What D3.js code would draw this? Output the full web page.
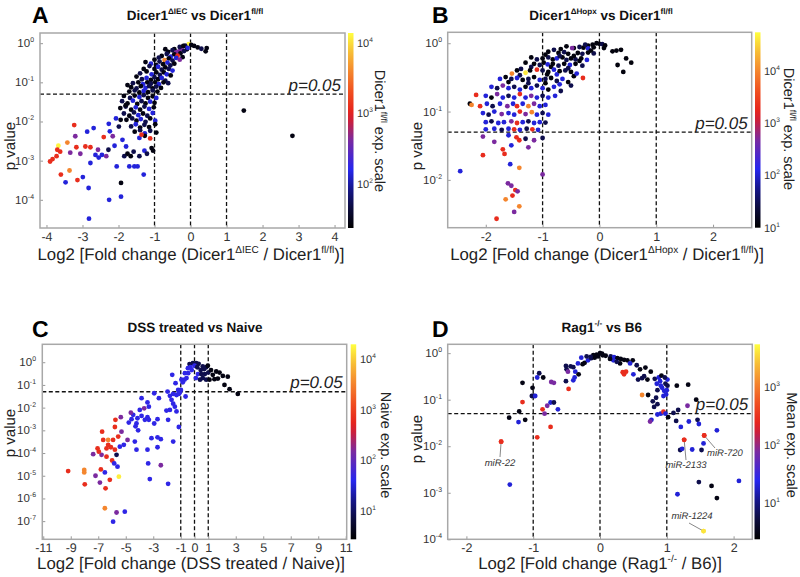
<!DOCTYPE html>
<html><head><meta charset="utf-8">
<script src="https://cdn.jsdelivr.net/npm/d3@7"></script>
<style>body{margin:0;background:#fff} svg{display:block} text{font-family:"Liberation Sans",Arial,Helvetica,sans-serif;text-rendering:geometricPrecision;-webkit-font-smoothing:antialiased}</style>
</head><body><svg id="c" width="800" height="577"></svg>
<script>
// ---------------- DATA: [log2 fold change, p value, expression] ----------------
const pointsA = [
[-0.05,0.95,12600],[0.02,0.9,28],[0.1,0.85,28],[0.2,0.78,28],[0.3,0.72,50],[0.45,0.75,28],[0.42,0.62,28],[-0.15,0.86,50],[-0.25,0.72,420],[-0.32,0.62,420],[-0.1,0.7,28],
[-0.3,0.8,50],[-0.2,0.85,28],[-0.08,0.76,140],[-0.45,0.7,28],
[-0.62,0.6,28],[-0.5,0.66,50],[-0.4,0.58,420],[-0.28,0.55,28],[-0.18,0.63,50],[-0.7,0.7,28],
[-0.8,0.47,28],[-0.66,0.53,50],[-0.55,0.45,140],[-0.45,0.52,28],[-0.36,0.48,1230],[-0.22,0.44,28],
[-1.0,0.38,28],[-0.88,0.43,50],[-0.72,0.37,3900],[-0.6,0.41,28],[-0.5,0.36,50],[-0.4,0.42,140],[-0.3,0.38,420],
[-1.1,0.3,140],[-0.96,0.28,28],[-0.86,0.34,50],[-0.76,0.29,28],[-0.64,0.32,140],[-0.56,0.27,50],[-0.45,0.3,28],[-1.25,0.33,28],
[-1.3,0.22,28],[-1.14,0.26,50],[-1.0,0.22,28],[-0.9,0.25,140],[-0.8,0.21,50],[-0.7,0.24,28],[-0.6,0.22,50],[-0.5,0.2,140],
[-1.4,0.17,50],[-1.22,0.19,28],[-1.08,0.16,140],[-0.95,0.18,28],[-0.85,0.155,50],[-0.74,0.18,28],[-0.66,0.16,140],[-0.55,0.15,28],
[-1.5,0.14,28],[-1.35,0.12,50],[-1.22,0.13,140],[-1.1,0.115,28],[-1.0,0.135,50],[-0.9,0.12,28],[-0.8,0.13,140],[-0.7,0.11,50],
[-1.6,0.095,50],[-1.45,0.1,28],[-1.32,0.09,140],[-1.2,0.1,28],[-1.1,0.092,50],[-0.98,0.1,28],[-0.88,0.09,140],[-0.75,0.1,28],[-0.62,0.095,50],
[-1.65,0.075,28],[-1.5,0.07,50],[-1.38,0.08,28],[-1.25,0.072,140],[-1.15,0.08,50],[-1.05,0.07,28],[-0.95,0.078,50],[-0.82,0.072,28],
[-1.7,0.058,28],[-1.55,0.062,50],[-1.42,0.055,28],[-1.3,0.06,140],[-1.18,0.056,28],[-1.05,0.062,50],[-0.92,0.058,28],
[-1.85,0.045,28],[-1.68,0.04,50],[-1.55,0.046,28],[-1.42,0.042,140],[-1.3,0.047,50],[-1.18,0.04,28],[-1.05,0.044,28],[-0.95,0.04,140],
[-1.9,0.033,50],[-1.75,0.029,28],[-1.6,0.034,140],[-1.48,0.028,28],[-1.36,0.033,50],[-1.25,0.029,28],[-1.12,0.032,140],[-1.0,0.03,28],
[-1.95,0.022,28],[-1.8,0.024,50],[-1.65,0.02,28],[-1.52,0.023,140],[-1.4,0.02,28],[-1.28,0.024,50],[-1.15,0.021,140],[-1.02,0.023,28],
[-1.85,0.016,50],[-1.7,0.014,28],[-1.57,0.017,50],[-1.45,0.0145,140],[-1.32,0.016,28],[-1.2,0.014,50],[-1.05,0.0165,140],
[-1.78,0.011,28],[-1.62,0.012,50],[-1.5,0.0105,28],[-1.38,0.0115,140],[-1.25,0.0098,50],[-1.12,0.012,28],[-0.98,0.0105,140],
[-1.65,0.0075,50],[-1.52,0.0085,140],[-1.4,0.007,28],[-1.28,0.0082,50],[-1.15,0.0072,28],[-0.98,0.0085,28],
[-1.55,0.0055,28],[-1.4,0.006,50],[-1.27,0.005,140],[-1.12,0.0058,50],[-0.95,0.0052,28],
[-1.42,0.0038,140],[-1.27,0.0043,28],[-1.12,0.0037,1230],
[-3.90,9.5e-4,1230],[-3.83,1.1e-3,1230],[-3.72,1.3e-3,1230],[-3.67,2.4e-3,12600],[-3.62,1.7e-3,1230],[-3.70,1.9e-3,1230],[-3.60,4.4e-4,1230],[-3.47,2.8e-4,140],[-3.42,2.9e-3,3900],[-3.36,5.6e-4,3900],[-3.34,1.6e-3,420],[-3.23,8.1e-3,1230],[-3.17,2.2e-3,1230],[-3.20,4.2e-3,420],[-3.14,3.2e-4,1230],[-3.06,1.5e-3,420],[-2.99,3.8e-4,140],[-2.92,2.3e-3,1230],[-2.87,5.5e-3,140],[-2.83,2.0e-4,140],[-2.82,3.3e-5,140],[-2.78,8.7e-4,140],[-2.78,2.2e-3,1230],[-2.69,6.8e-3,140],[-2.64,1.4e-3,140],[-2.57,1.9e-3,420],[-2.55,1.2e-3,140],[-2.46,1.4e-3,140],[-2.41,4.0e-3,1230],[-2.34,1.3e-3,420],[-2.28,1.9e-3,50],[-2.27,8.7e-3,140],[-2.24,5.6e-3,140],[-2.26,1.0e-4,140],[-2.16,4.2e-3,420],[-2.11,2.4e-3,140],[-2.07,1.2e-2,140],[-2.05,7.1e-4,140],[-1.93,2.7e-4,28],[-1.93,1.2e-4,140],[-1.89,3.4e-3,140],[-1.84,1.3e-3,50],[-1.79,2.3e-3,140],[-1.75,1.5e-3,28],[-1.70,7.1e-4,140],[-1.66,1.3e-3,28],[-1.58,1.7e-3,50],[-1.56,7.1e-4,140],[-1.47,7.1e-4,140],[-1.42,1.3e-3,50],[-1.36,4.6e-3,1230],[-1.30,4.4e-4,140],[-1.28,1.8e-3,140],[-1.21,1.5e-3,50],[-1.08,2.1e-3,28],[-1.04,1.8e-3,28],[-1.75,0.085,28],[-1.80,0.026,28],[-1.94,0.011,28],[-1.99,7.4e-3,50],
[1.48,0.019,28],[2.83,0.0043,28]
];
const pointsB = [
[-0.12,0.95,12],[-0.05,1.0,12],[0.0,0.98,12],[0.05,0.97,28],[0.1,0.93,12],[-0.2,0.92,12],
[-0.45,0.85,12],[-0.35,0.88,28],[-0.28,0.86,12],[-0.2,0.84,110],[-0.1,0.87,12],[0.08,0.85,12],[-0.48,0.85,480],
[-0.72,0.72,12],[-0.62,0.74,28],[-0.55,0.7,12],[-0.38,0.72,12],[-0.3,0.7,28],[-0.2,0.73,12],[-0.1,0.71,28],
[-1.0,0.6,12],[-0.9,0.62,28],[-0.82,0.58,12],[-0.75,0.6,110],[-0.65,0.62,12],[-0.58,0.57,28],[-0.5,0.6,12],[-0.42,0.58,28],[-0.32,0.6,12],[-0.22,0.57,110],
[-1.15,0.5,12],[-1.05,0.48,28],[-0.98,0.52,12],[-0.91,0.49,110],[-0.82,0.5,12],[-0.72,0.47,28],[-0.62,0.5,12],[-0.52,0.48,110],[-0.42,0.5,12],[-0.3,0.47,28],
[-0.9,0.75,12],[-0.8,0.8,28],[-0.68,0.82,12],[-0.58,0.9,12],[-0.25,0.95,28],[-0.15,0.78,12],[-1.2,0.62,12],[-1.1,0.58,28],[-0.95,0.68,12],[-0.7,0.65,28],[-0.45,0.65,12],[-0.35,0.55,12],
[-1.3,0.52,12],[-1.2,0.45,28],[-0.85,0.45,12],[-0.55,0.43,28],[-1.4,0.34,28],[-0.92,0.35,12],[-0.75,0.35,110],[-0.45,0.33,12],[-1.6,0.27,12],[-1.25,0.26,28],[-0.95,0.26,12],[-0.7,0.25,110],[-0.5,0.24,28],
[-1.54,0.36,9600],[-1.3,0.37,40000],[-1.1,0.41,2000],[-1.45,0.4,12],[-1.38,0.42,28],[-1.22,0.4,12],[-1.0,0.4,28],[-0.9,0.38,12],[-0.8,0.41,110],[-0.7,0.39,12],[-0.6,0.4,28],[-0.5,0.38,12],[-0.4,0.36,110],[-0.29,0.31,2000],
[-1.75,0.3,110],[-1.65,0.32,12],[-1.55,0.3,28],[-1.45,0.31,110],[-1.35,0.29,12],[-1.25,0.3,28],[-1.15,0.32,12],[-1.05,0.29,110],[-0.95,0.3,28],[-0.85,0.31,12],[-0.75,0.28,28],[-0.65,0.3,110],[-0.55,0.27,12],
[-1.9,0.23,110],[-1.8,0.22,28],[-1.7,0.24,480],[-1.6,0.22,110],[-1.5,0.23,28],[-1.4,0.21,110],[-1.3,0.23,12],[-1.2,0.22,110],[-1.1,0.24,28],[-1.0,0.22,110],[-0.9,0.21,12],[-0.8,0.23,110],[-0.68,0.2,28],
[-2.17,0.175,2000],[-2.0,0.17,110],[-1.9,0.16,12],[-1.8,0.18,480],[-1.7,0.16,110],[-1.6,0.17,28],[-1.5,0.16,110],[-1.4,0.18,2000],[-1.3,0.16,110],[-1.2,0.17,480],[-1.1,0.16,110],[-1.0,0.17,28],[-0.9,0.16,110],[-0.78,0.17,110],
[-2.28,0.13,12],[-2.25,0.125,9600],[-2.1,0.12,2000],[-1.98,0.13,110],[-1.88,0.12,28],[-1.75,0.13,110],[-1.62,0.12,480],[-1.52,0.13,110],[-1.45,0.12,2000],[-1.35,0.13,110],[-1.25,0.12,9600],[-1.15,0.13,480],[-1.05,0.12,110],[-0.95,0.125,110],
[-2.05,0.095,110],[-1.95,0.09,28],[-1.85,0.1,110],[-1.72,0.092,480],[-1.6,0.095,110],[-1.5,0.09,110],[-1.4,0.1,2000],[-1.3,0.092,480],[-1.19,0.098,9600],[-1.1,0.09,110],[-1.0,0.095,28],[-0.9,0.09,110],
[-2.0,0.07,110],[-1.9,0.072,28],[-1.78,0.068,110],[-1.68,0.07,110],[-1.55,0.072,480],[-1.45,0.068,2000],[-1.35,0.07,110],[-1.25,0.072,28],[-1.15,0.068,110],[-1.05,0.07,110],[-0.95,0.069,28],
[-2.0,0.055,110],[-1.85,0.056,110],[-1.72,0.054,28],[-1.6,0.056,110],[-1.5,0.055,2000],[-1.4,0.054,110],[-1.28,0.056,28],[-1.18,0.055,2000],[-1.08,0.054,110],
[-2.05,0.043,480],[-1.85,0.036,480],[-1.6,0.045,110],[-1.46,0.042,2000],[-1.41,0.038,2000],[-1.3,0.04,28],[-1.15,0.038,480],[-1.0,0.041,28],[-1.7,0.028,2000],[-1.67,0.024,2000],[-1.55,0.032,110],[-2.05,0.023,2000],[-1.25,0.03,480],
[-2.45,0.0134,110],[-1.57,0.017,110],[-1.41,0.015,9600],[-1.0,0.012,480],[-1.61,0.0089,480],[-1.55,0.0082,480],[-1.48,0.0071,2000],[-1.44,0.0068,480],[-1.65,0.0052,9600],[-1.53,0.0059,2000],[-1.41,0.0041,9600],[-1.5,0.0034,480],[-1.81,0.0027,2000],
[0.23,0.76,12],[0.32,0.48,12],[0.47,0.6,12],[0.42,0.38,12],[0.56,0.52,12],[0.3,0.78,12],[0.38,0.8,12]
];
const pointsC = [
[-9.19,1.6e-5,680],[-8.02,1.8e-5,3400],[-8.02,1.4e-5,3400],[-7.98,4.2e-6,680],[-7.2,1.0e-5,150],[-6.88,5.0e-6,150],[-6.81,1.9e-5,680],[-6.52,1.4e-5,45],[-6.76,8.3e-5,150],[-7.37,8.9e-5,150],[-6.96,1.15e-4,680],[-6.47,2.8e-6,680],[-6.52,3.7e-7,3400],[-6.16,6.6e-6,680],[-5.99,4.7e-5,680],[-6.28,3.8e-4,3400],[-6.72,8.7e-4,680],[-6.4,1.6e-4,680],[-5.92,9.5e-8,45],[-5.67,2.4e-7,150],[-5.07,2.6e-7,45],[-5.5,9.1e-6,16000],[-5.84,3.5e-5,45],[-5.6,2.5e-5,45],[-5.75,2.9e-3,680],[-5.79,1.4e-3,680],[-5.36,3.8e-3,150],[-5.31,8.7e-4,150],[-5.55,5.3e-4,680],[-5.92,3.8e-4,680],[-6.08,1.8e-4,680],[-5.79,1.4e-4,680],[-5.43,1.9e-4,45],[-5.14,2.3e-4,45],[-5.67,8.3e-5,8],[-6.64,3.8e-4,680],[-7.05,1.6e-4,680],[-6.28,2.3e-4,680],[-6.4,6.9e-5,680],
[-4.78,2.2e-3,45],[-4.87,3.8e-4,150],[-4.58,3.1e-3,45],[-4.46,4.8e-3,45],[-4.15,3.4e-3,45],[-4.22,2.0e-3,45],[-3.98,7.9e-3,45],[-3.85,4.3e-3,45],[-3.66,9.3e-3,150],[-3.61,2.9e-3,45],[-3.42,3.8e-3,45],[-3.32,2.9e-3,45],[-3.42,1.7e-2,45],[-3.32,1.1e-2,45],[-4.34,3.2e-4,45],[-4.22,1.4e-4,45],[-4.29,1.5e-3,45],[-4.1,1.0e-3,45],[-3.42,1.4e-4,45],[-3.13,4.5e-4,45],[-2.69,4.9e-4,45],[-2.45,4.1e-4,45],[-2.69,1.8e-4,45],[-3.25,7.1e-6,45],[-2.45,2.9e-5,150],[-3.37,3.5e-5,45],[-2.69,3.1e-3,45],[-2.59,2.6e-2,45],[-2.93,4.3e-2,45],[-1.92,2.9e-3,45],[-1.55,3.2e-4,45],[-1.92,4.4e-6,45],[-1.14,1.4e-3,45],[-1.96,5.1e-2,45],[-1.79,3.3e-2,45],[-1.67,2.2e-2,45],[-1.55,1.5e-2,45],[-1.43,1.1e-2,45],[-1.31,6.8e-3,45],[-1.79,7.9e-3,45],[-2.04,7.4e-3,45],[-1.55,4.0e-2,45],[-1.31,3.6e-2,45],[-1.19,6.0e-2,45],[-1.07,4.6e-2,45],[-1.62,0.28,45],[-1.38,0.12,45],[-0.95,0.17,45],[-0.7,0.33,45],[-0.58,0.2,45],[-0.46,0.33,45],[-0.65,3.1e-2,45],[-0.99,6.0e-2,45],[-1.14,4.0e-2,45],[-2.93,2.0e-3,45],[-3.85,2.6e-2,45],[-4.63,6.0e-3,150],
[-0.36,0.83,8],[-0.12,0.9,8],[0.12,0.92,8],[0.3,0.85,8],[0.6,0.65,8],[0.85,0.6,8],[0.97,0.7,3.5],[0.7,0.5,8],[0.45,0.45,8],[0.0,0.7,45],[-0.48,0.55,45],[-0.73,0.17,45],[-0.85,0.13,45],[-0.3,0.6,45],[0.6,0.2,8],[0.85,0.17,8],[1.09,0.17,3.5],[1.33,0.28,3.5],[1.58,0.39,3.5],[1.82,0.35,3.5],[2.06,0.25,3.5],[2.42,0.23,3.5],[1.45,0.18,3.5],[1.7,0.19,3.5],[2.18,0.1,3.5],[2.55,0.065,3.5],[3.15,0.04,3.5],[0.25,0.3,45],[0.5,0.3,8],[0.2,0.6,8],[-0.2,0.45,45],[0.1,0.2,45],[0.4,0.17,8],[1.0,0.35,8],[1.2,0.45,3.5],[0.75,0.3,8]
];
const pointsD = [
[-1.48,0.0125,280],[-1.35,0.0015,20],[-1.36,0.041,3],[-1.22,0.033,20],[-1.21,0.056,3],[-1.16,0.23,3],[-1.16,0.089,280],[-1.12,0.037,3],[-1.01,0.18,3],[-1.02,0.12,6],[-0.99,0.12,6],[-0.97,0.12,20],[-0.94,0.30,20],[-0.91,0.37,6],[-0.85,0.3,3],[-0.94,0.0155,280],[-0.86,0.062,280],[-0.83,0.05,75],[-0.79,0.074,75],[-0.74,0.087,20],[-0.69,0.087,6],[-0.74,0.026,280],[-0.73,0.24,75],[-0.69,0.23,75],[-0.63,0.062,20],[-0.51,0.53,6],[-0.51,0.25,6],[-0.47,0.17,280],[-0.5,0.45,6],[-0.48,0.4,75],[-0.44,0.52,6],[-0.4,0.5,6],[-0.38,0.3,20],[-0.37,0.4,20],[-0.32,0.35,3],[-0.33,0.6,20],[-0.26,0.58,3],[-0.23,0.62,3],[-0.18,0.7,20],[-0.13,0.78,6],[-0.08,0.8,3],[-0.03,0.85,3],[-0.28,0.8,20],[-0.2,0.85,6],[-0.1,0.9,3],[-0.05,0.93,3],[0.03,0.98,3],[-0.4,0.26,20],
[0.0,1.0,3],[-0.14,0.83,6],[0.04,0.9,3],[0.085,0.88,3],[0.16,0.85,6],[0.21,0.82,20],[0.26,0.78,3],[0.31,0.75,3],[0.36,0.72,3],[0.41,0.7,3],[0.49,0.7,3],[0.3,0.6,3],[0.34,0.39,280],[0.39,0.4,280],[0.36,0.35,280],[0.5,0.35,20],[0.57,0.27,6],[0.66,0.32,6],[0.68,0.49,3],[0.63,0.29,6],[0.71,0.27,3],[0.76,0.4,3],[0.72,0.126,3],[0.63,0.126,1150],[0.79,0.092,6],[0.84,0.11,6],[0.86,0.16,6],[0.9,0.25,20],[0.91,0.2,20],[0.93,0.18,20],[0.96,0.155,20],[0.98,0.22,6],[1.01,0.27,20],[1.01,0.2,6],[1.0,0.16,20],[0.95,0.12,20],[0.86,0.08,6],[0.81,0.07,6],[0.77,0.037,20],[0.75,0.034,75],[0.86,0.048,20],[0.91,0.05,20],[0.95,0.055,280],[0.98,0.05,20],[1.15,0.2,3],[1.32,0.21,3],[1.17,0.06,6],[1.1,0.052,6],[1.31,0.074,75],[1.44,0.1,3],[1.02,0.042,3],[1.21,0.026,20],[1.14,0.035,6],[1.33,0.034,20],[1.46,0.037,6],[1.48,0.03,20],[1.26,0.0137,280],[1.56,0.017,280],[1.75,0.022,20],[1.2,0.0083,6],[1.23,0.0088,20],[1.38,0.0085,20],[1.52,0.0083,6],[1.55,0.0115,20],[1.48,0.0017,6],[1.67,0.0014,3],[1.16,0.00093,20],[1.75,0.00077,3],[2.08,0.0018,20],[1.55,0.00015,4000],
[0.45,0.6,20],[0.55,0.55,6],[0.6,0.45,3],[0.2,0.7,20],[0.25,0.65,6],[0.15,0.75,3],[0.82,0.28,6],[0.88,0.3,20],[0.92,0.33,3],[0.85,0.22,20],[0.97,0.3,6],[0.99,0.13,20]
];
const annotationsD = [["miR-22",-1.48,0.0125],["miR-2133",1.26,0.0137],["miR-720",1.56,0.017],["miR-1224",1.55,0.00015]];

const xTicksA = [-4,-3,-2,-1,0,1,2,3,4];
const xTicksB = [-2,-1,0,1,2];
const xTicksC = [-11,-9,-7,-5,-3,-1,0,1,3,5,7,9,11];
const xTicksD = [-2,-1,0,1,2];
const yTicksA = [1,1e-1,1e-2,1e-3,1e-4];
const yTicksB = [1,1e-1,1e-2];
const yTicksC = [1,1e-1,1e-2,1e-3,1e-4,1e-5,1e-6,1e-7];
const yTicksD = [1,1e-1,1e-2,1e-3,1e-4];
const cbTicksA = [1e2,1e3,1e4];
const cbTicksB = [1e1,1e2,1e3,1e4];
const cbTicksC = [1e1,1e2,1e3,1e4];
const cbTicksD = [1e1,1e2,1e3];
const foldLinesA = [-1,0,1], foldLinesB = [-1,0,1], foldLinesC = [-1,0,1], foldLinesD = [-1,0,1];
const pThreshold = 0.05;

const cmapStops  = [0, 0.1, 0.2, 0.3, 0.45, 0.58, 0.7, 0.82, 0.92, 1];
const cmapColors = ['#000000','#0c0c3c','#16168a','#2626ee','#7a2aa0','#e41c1c','#f05020','#f59030','#f8c838','#ffff40'];

// ---------------- LAYOUT ----------------
const panels = [
 {letter:'A', lx:32, ly:23, data:pointsA, r:{x0:40,y0:33,x1:345,y1:228}, xDom:[-4.18,4.29], yDom:[Math.pow(10,-4.72),Math.pow(10,0.26)],
  xT:xTicksA, yT:yTicksA, vl:foldLinesA, cbX:348, cbDom:[Math.pow(10,1.37),Math.pow(10,4.14)], cbT:cbTicksA,
  title:[["Dicer1",0],["ΔIEC",1],[" vs Dicer1",0],["fl/fl",1]], tx:195, ty:20,
  xl:[["Log2 [Fold change (Dicer1",0],["ΔIEC",1],[" / Dicer1",0],["fl/fl",1],[")]",0]], xlx:191, xly:260,
  ylx:15, yly:146, cbl:[["Dicer1",0],["fl/fl",1],[" exp. scale",0]], cblx:375, cbly:131},
 {letter:'B', lx:432, ly:23, data:pointsB, r:{x0:447.7,y0:32.3,x1:751.7,y1:227.7}, xDom:[-2.67,2.68], yDom:[Math.pow(10,-2.70),Math.pow(10,0.16)],
  xT:xTicksB, yT:yTicksB, vl:foldLinesB, cbX:755, cbDom:[10,Math.pow(10,4.73)], cbT:cbTicksB,
  title:[["Dicer1",0],["ΔHopx",1],[" vs Dicer1",0],["fl/fl",1]], tx:601, ty:20,
  xl:[["Log2 [Fold change (Dicer1",0],["ΔHopx",1],[" / Dicer1",0],["fl/fl",1],[")]",0]], xlx:607, xly:260,
  ylx:422, yly:146, cbl:[["Dicer1",0],["fl/fl",1],[" exp. scale",0]], cblx:784, cbly:129},
 {letter:'C', lx:32, ly:337, data:pointsC, r:{x0:42.3,y0:344.3,x1:346.7,y1:539.3}, xDom:[-11.07,11.07], yDom:[Math.pow(10,-7.8),Math.pow(10,0.79)],
  xT:xTicksC, yT:yTicksC, vl:foldLinesC, cbX:350.7, cbDom:[Math.pow(10,0.43),Math.pow(10,4.3)], cbT:cbTicksC,
  title:[["DSS treated vs Naive",0]], tx:195, ty:332,
  xl:[["Log2 [Fold change (DSS treated / Naive)]",0]], xlx:191, xly:569,
  ylx:15, yly:433, cbl:[["Naive exp. scale",0]], cblx:381, cbly:445},
 {letter:'D', lx:432, ly:337, data:pointsD, r:{x0:447.7,y0:344.3,x1:752.3,y1:539.3}, xDom:[-2.28,2.28], yDom:[1e-4,Math.pow(10,0.19)],
  xT:xTicksD, yT:yTicksD, vl:foldLinesD, cbX:754.5, cbDom:[Math.pow(10,0.37),Math.pow(10,3.73)], cbT:cbTicksD,
  title:[["Rag1",0],["-/-",1],[" vs B6",0]], tx:601.7, ty:332,
  xl:[["Log2 [Fold change (Rag1",0],["-/-",1],[" / B6)]",0]], xlx:600, xly:569,
  ylx:422, yly:439, cbl:[["Mean exp. scale",0]], cblx:787, cbly:445,
  annot:annotationsD}
];
const annotLayout = {"miR-22":{lx:500,ly:466,anchor:'middle',ex:500,ey:457},
  "miR-2133":{lx:686,ly:468,anchor:'middle',ex:686,ey:460},
  "miR-720":{lx:707,ly:456,anchor:'start',ex:715,ey:448},
  "miR-1224":{lx:692,ly:519,anchor:'middle',ex:689,ey:523}};

const svg = d3.select('#c');
const defs = svg.append('defs');
const cmap = d3.scaleLinear().domain(cmapStops).range(cmapColors).interpolate(d3.interpolateRgb).clamp(true);
const grad = defs.append('linearGradient').attr('id','cbar').attr('x1',0).attr('y1',1).attr('x2',0).attr('y2',0);
d3.range(0,1.0001,0.05).forEach(t=>grad.append('stop').attr('offset',t).attr('stop-color',cmap(t)));

function rich(sel, segs, size){
  let prev=false;
  segs.forEach(([t,sup])=>{
    const ts=sel.append('tspan').text(t);
    if(sup){ts.attr('font-size',size*0.6); if(!prev) ts.attr('dy',-size*0.42);}
    else if(prev) ts.attr('dy',size*0.42);
    prev=!!sup;
  });
}

panels.forEach((P,i)=>{
  const g=svg.append('g');
  const {x0,y0,x1,y1}=P.r;
  const x=d3.scaleLinear().domain(P.xDom).range([x0,x1]);
  const y=d3.scaleLog().domain(P.yDom).range([y1,y0]);
  const lo=Math.log10(P.cbDom[0]), hi=Math.log10(P.cbDom[1]);
  const col=v=>cmap((Math.log10(v)-lo)/(hi-lo));

  defs.append('clipPath').attr('id','clip'+i).append('rect').attr('x',x0).attr('y',y0).attr('width',x1-x0).attr('height',y1-y0);

  const dl=g.append('g').attr('stroke','#111').attr('stroke-width',1.3).attr('stroke-dasharray','4,2.5');
  P.vl.forEach(v=>dl.append('line').attr('x1',x(v)).attr('x2',x(v)).attr('y1',y0).attr('y2',y1));
  dl.append('line').attr('x1',x0).attr('x2',x1).attr('y1',y(pThreshold)).attr('y2',y(pThreshold));

  g.append('g').attr('clip-path',`url(#clip${i})`).selectAll('circle').data(P.data).join('circle')
    .attr('cx',d=>x(d[0])).attr('cy',d=>y(d[1])).attr('r',2.4).attr('fill',d=>col(d[2]));

  const ax=g.append('g').attr('transform',`translate(0,${y1})`)
    .call(d3.axisBottom(x).tickValues(P.xT).tickSizeInner(-3).tickSizeOuter(0).tickFormat(d=>String(d)));
  ax.select('.domain').remove();
  ax.selectAll('line').attr('stroke','#999');
  ax.selectAll('text').attr('y',4).attr('dy','0.71em').attr('font-size',12.5).attr('fill','#333')
    .attr('font-family','"Liberation Sans",Arial,sans-serif');
  const ay=g.append('g').attr('transform',`translate(${x0},0)`)
    .call(d3.axisLeft(y).tickValues(P.yT).tickSizeInner(-3).tickSizeOuter(0).tickFormat(''));
  ay.select('.domain').remove();
  ay.selectAll('line').attr('stroke','#999');
  P.yT.forEach(v=>{
    const t=g.append('text').attr('x',Math.round(x0-6)).attr('y',Math.round(y(v)+4)).attr('text-anchor','end').attr('font-size',11.5).attr('fill','#333');
    rich(t,[["10",0],[String(Math.round(Math.log10(v))),1]],11.5);
  });

  g.append('rect').attr('x',x0).attr('y',y0).attr('width',x1-x0).attr('height',y1-y0)
    .attr('fill','none').attr('stroke','#a8a8a8').attr('stroke-width',1.5);

  g.append('text').attr('x',x1-4).attr('y',y(pThreshold)-3.5).attr('text-anchor','end')
    .attr('font-size',17).attr('font-style','italic').attr('fill','#222').text('p=0.05');

  const cy=d3.scaleLog().domain(P.cbDom).range([y1,y0]);
  g.append('rect').attr('x',P.cbX).attr('y',y0).attr('width',5.5).attr('height',y1-y0).attr('fill','url(#cbar)');
  P.cbT.forEach(v=>{
    const t=g.append('text').attr('x',Math.round(P.cbX+9)).attr('y',Math.round(cy(v)+4)).attr('font-size',11).attr('fill','#333');
    rich(t,[["10",0],[String(Math.round(Math.log10(v))),1]],11);
  });

  g.append('text').attr('x',P.lx).attr('y',P.ly).attr('font-size',23).attr('font-weight','bold').attr('fill','#000').text(P.letter);
  const tt=g.append('text').attr('x',P.tx).attr('y',P.ty).attr('text-anchor','middle').attr('font-size',13.5).attr('font-weight','bold').attr('fill','#111');
  rich(tt,P.title,13.5);
  const xl=g.append('text').attr('x',P.xlx).attr('y',P.xly).attr('text-anchor','middle').attr('font-size',16.8).attr('fill','#222');
  rich(xl,P.xl,16.8);
  g.append('text').attr('transform',`translate(${P.ylx},${P.yly}) rotate(-90)`).attr('text-anchor','middle')
    .attr('font-size',15).attr('fill','#222').text('p value');
  const cl=g.append('text').attr('transform',`translate(${P.cblx},${P.cbly}) rotate(90)`).attr('text-anchor','middle')
    .attr('font-size',14.5).attr('fill','#222');
  rich(cl,P.cbl,14.5);

  if(P.annot){
    P.annot.forEach(([name,fc,p])=>{
      const L=annotLayout[name];
      g.append('line').attr('x1',x(fc)).attr('y1',y(p)).attr('x2',L.ex).attr('y2',L.ey).attr('stroke','#888').attr('stroke-width',1);
      g.append('text').attr('x',L.lx).attr('y',L.ly).attr('text-anchor',L.anchor).attr('font-size',9.5)
        .attr('font-style','italic').attr('fill','#333').text(name);
    });
    g.selectAll('circle.hl').data(P.annot).join('circle').attr('class','hl')
      .attr('cx',d=>x(d[1])).attr('cy',d=>y(d[2])).attr('r',2.4)
      .attr('fill',d=>{const m=P.data.find(q=>q[0]===d[1]&&q[1]===d[2]);return col(m?m[2]:10);});
  }
});
</script></body></html>
